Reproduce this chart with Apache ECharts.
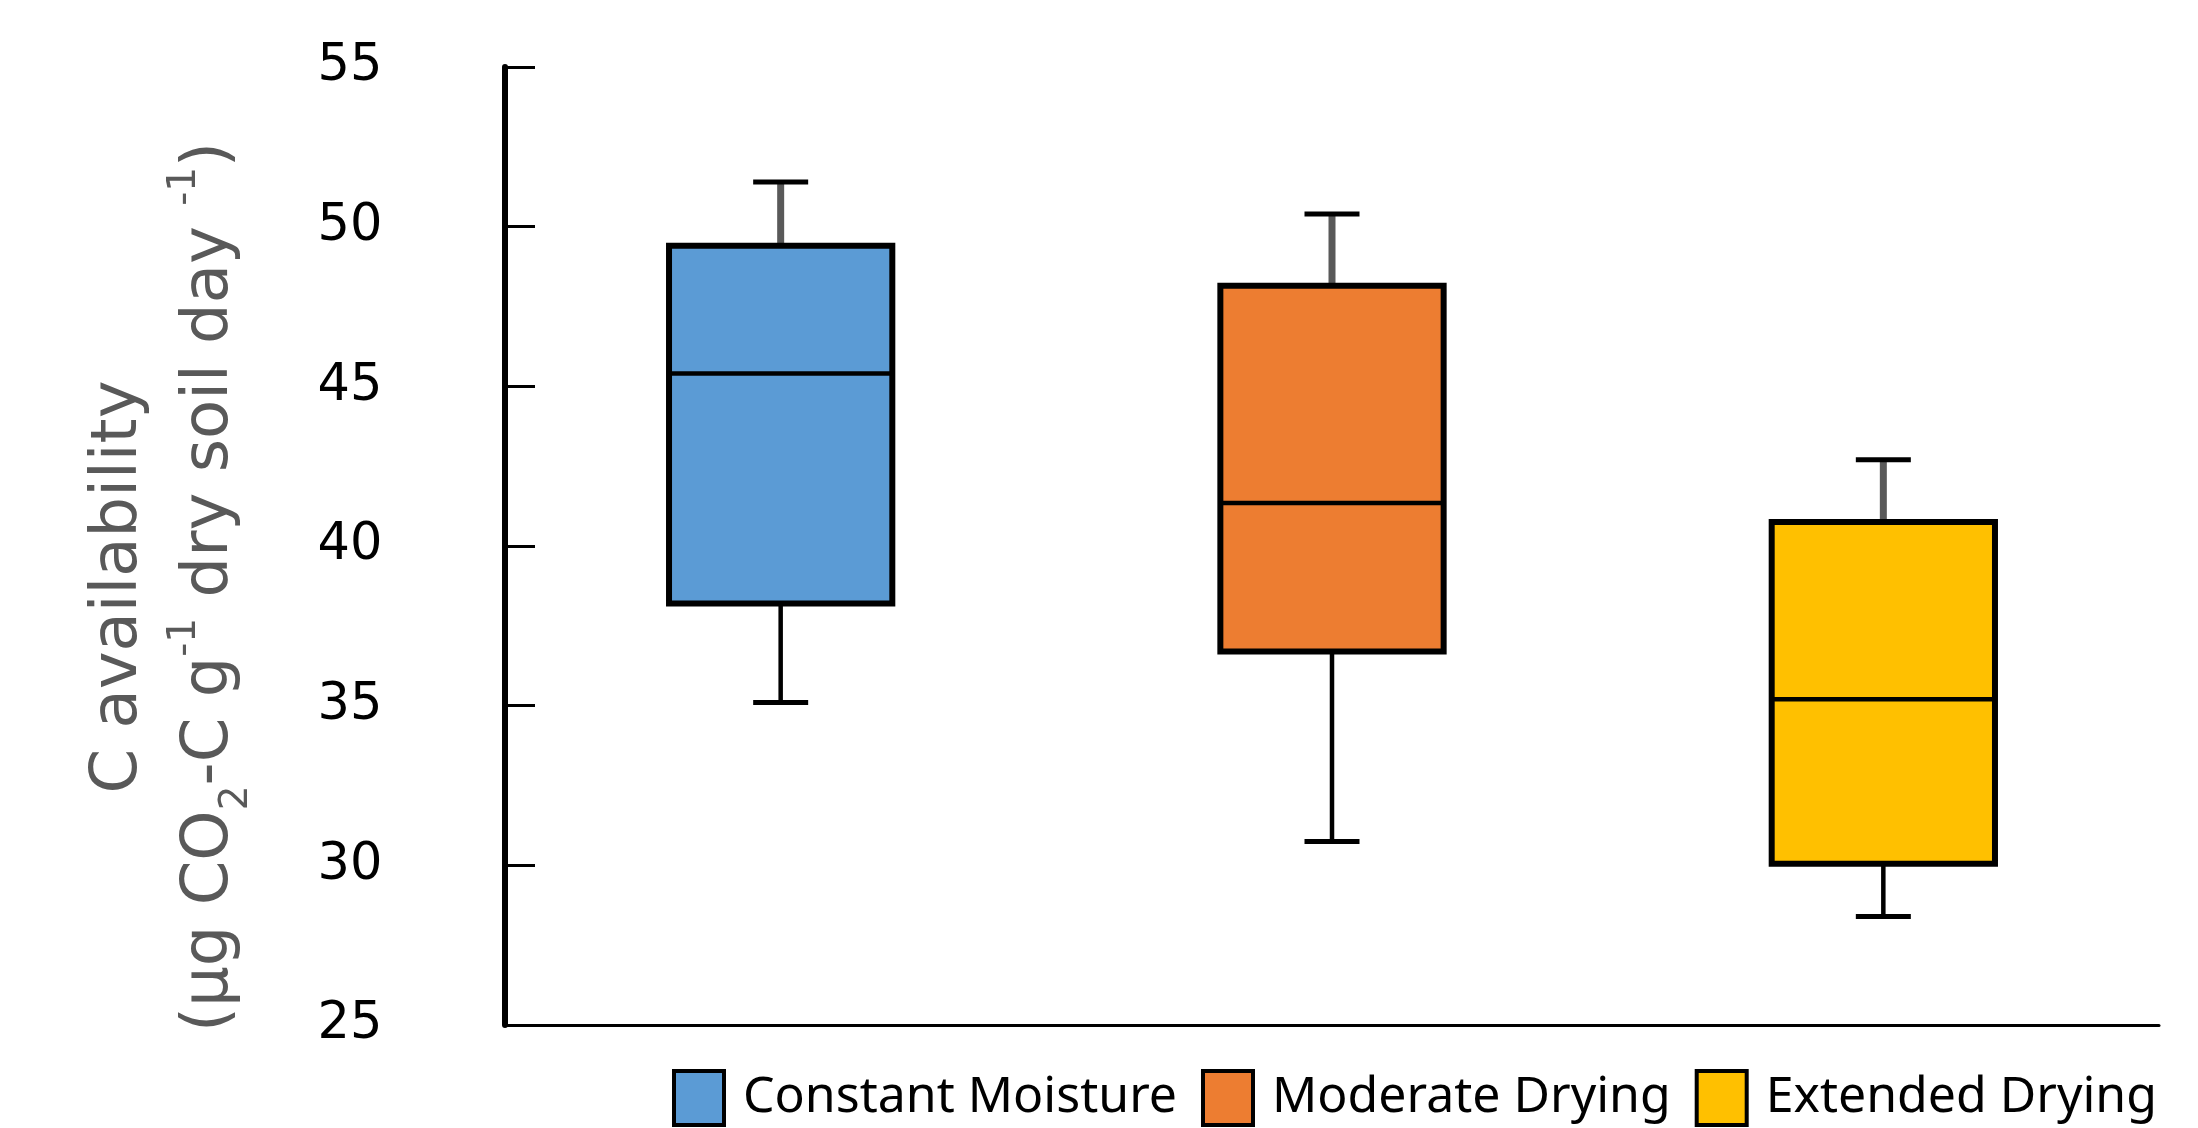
<!DOCTYPE html>
<html><head><meta charset="utf-8">
<script src="https://cdn.jsdelivr.net/npm/echarts@6/dist/echarts.min.js"></script>
<style>html,body{margin:0;padding:0;background:#fff}#c{width:2198px;height:1128px}</style>
</head><body><div id="c"></div>
<script>
const categories = ['Constant Moisture', 'Moderate Drying', 'Extended Drying'];
const whiskerLow = [35.1, 30.75, 28.4];
const q1 = [38.2, 36.7, 30.05];
const median = [45.4, 41.35, 35.2];
const q3 = [49.4, 48.15, 40.75];
const whiskerHigh = [51.4, 50.4, 42.7];
const colors = ['#5B9BD5', '#ED7D31', '#FFC000'];
const yMin = 25, yMax = 55, yStep = 5;

function renderBox(params, api) {
  const x = api.value(0);
  const lo = api.coord([x, api.value(1)]);
  const b1 = api.coord([x, api.value(2)]);
  const md = api.coord([x, api.value(3)]);
  const b3 = api.coord([x, api.value(4)]);
  const hi = api.coord([x, api.value(5)]);
  const band = api.size([1, 0])[0];
  const bw = band * 0.405;
  const cw = 55;
  const cx = lo[0];
  const color = api.visual('color');
  return {
    type: 'group',
    children: [
      { type: 'line', shape: { x1: cx, y1: hi[1], x2: cx, y2: b3[1] }, style: { stroke: '#595959', lineWidth: 7 } },
      { type: 'line', shape: { x1: cx, y1: b1[1], x2: cx, y2: lo[1] }, style: { stroke: '#000', lineWidth: 4.5 } },
      { type: 'line', shape: { x1: cx - cw / 2, y1: hi[1], x2: cx + cw / 2, y2: hi[1] }, style: { stroke: '#000', lineWidth: 5 } },
      { type: 'line', shape: { x1: cx - cw / 2, y1: lo[1], x2: cx + cw / 2, y2: lo[1] }, style: { stroke: '#000', lineWidth: 5 } },
      { type: 'rect', shape: { x: cx - bw / 2, y: b3[1], width: bw, height: b1[1] - b3[1] }, style: { fill: color, stroke: '#000', lineWidth: 6 } },
      { type: 'line', shape: { x1: cx - bw / 2, y1: md[1], x2: cx + bw / 2, y2: md[1] }, style: { stroke: '#000', lineWidth: 4.5 } }
    ]
  };
}

const chart = echarts.init(document.getElementById('c'), null, { renderer: 'canvas' });
chart.setOption({
  animation: false,
  backgroundColor: '#fff',
  grid: { left: 505, right: 39, top: 67, bottom: 103 },
  xAxis: {
    type: 'category', data: categories, boundaryGap: true,
    axisLine: { show: true, lineStyle: { color: '#000', width: 3 } },
    axisTick: { show: false }, axisLabel: { show: false }, splitLine: { show: false }
  },
  yAxis: {
    type: 'value', min: yMin, max: yMax, interval: yStep,
    axisLine: { show: true, lineStyle: { color: '#000', width: 6 } },
    axisTick: { show: true, inside: true, length: 30, lineStyle: { color: '#000', width: 3 } },
    splitLine: { show: false },
    axisLabel: { color: '#000', fontFamily: 'DejaVu Sans', fontSize: 51, align: 'center', margin: 155 }
  },
  legend: {
    left: 667, top: 1064, width: 1530, itemWidth: 50, itemHeight: 54, itemGap: 24, icon: 'rect',
    textStyle: { fontFamily: 'Noto Sans', fontSize: 50, color: '#000', padding: [0, 0, 0, 14] },
    data: categories.map((c, i) => ({ name: c, itemStyle: { color: colors[i], borderColor: '#000', borderWidth: 4 } }))
  },
  graphic: [{
    type: 'text', x: 165, y: 587, rotation: Math.PI / 2,
    style: {
      text: '{t|C availability}\n{t|(μg CO}{sub|2}{t|-C g}{sup|-1}{t| dry soil day }{sup|-1}{t|)}',
      align: 'center', verticalAlign: 'middle',
      rich: {
        t: { fontFamily: 'DejaVu Sans', fontSize: 64, lineHeight: 91, fill: '#595959' },
        sub: { fontFamily: 'DejaVu Sans', fontSize: 39, lineHeight: 50, verticalAlign: 'bottom', fill: '#595959' },
        sup: { fontFamily: 'DejaVu Sans', fontSize: 39, lineHeight: 60, verticalAlign: 'top', fill: '#595959' }
      }
    }
  }],
  series: categories.map((c, i) => ({
    name: c, type: 'custom', renderItem: renderBox,
    itemStyle: { color: colors[i] },
    encode: { x: 0, y: [1, 2, 3, 4, 5] },
    data: [[i, whiskerLow[i], q1[i], median[i], q3[i], whiskerHigh[i]]]
  }))
});
</script></body></html>
